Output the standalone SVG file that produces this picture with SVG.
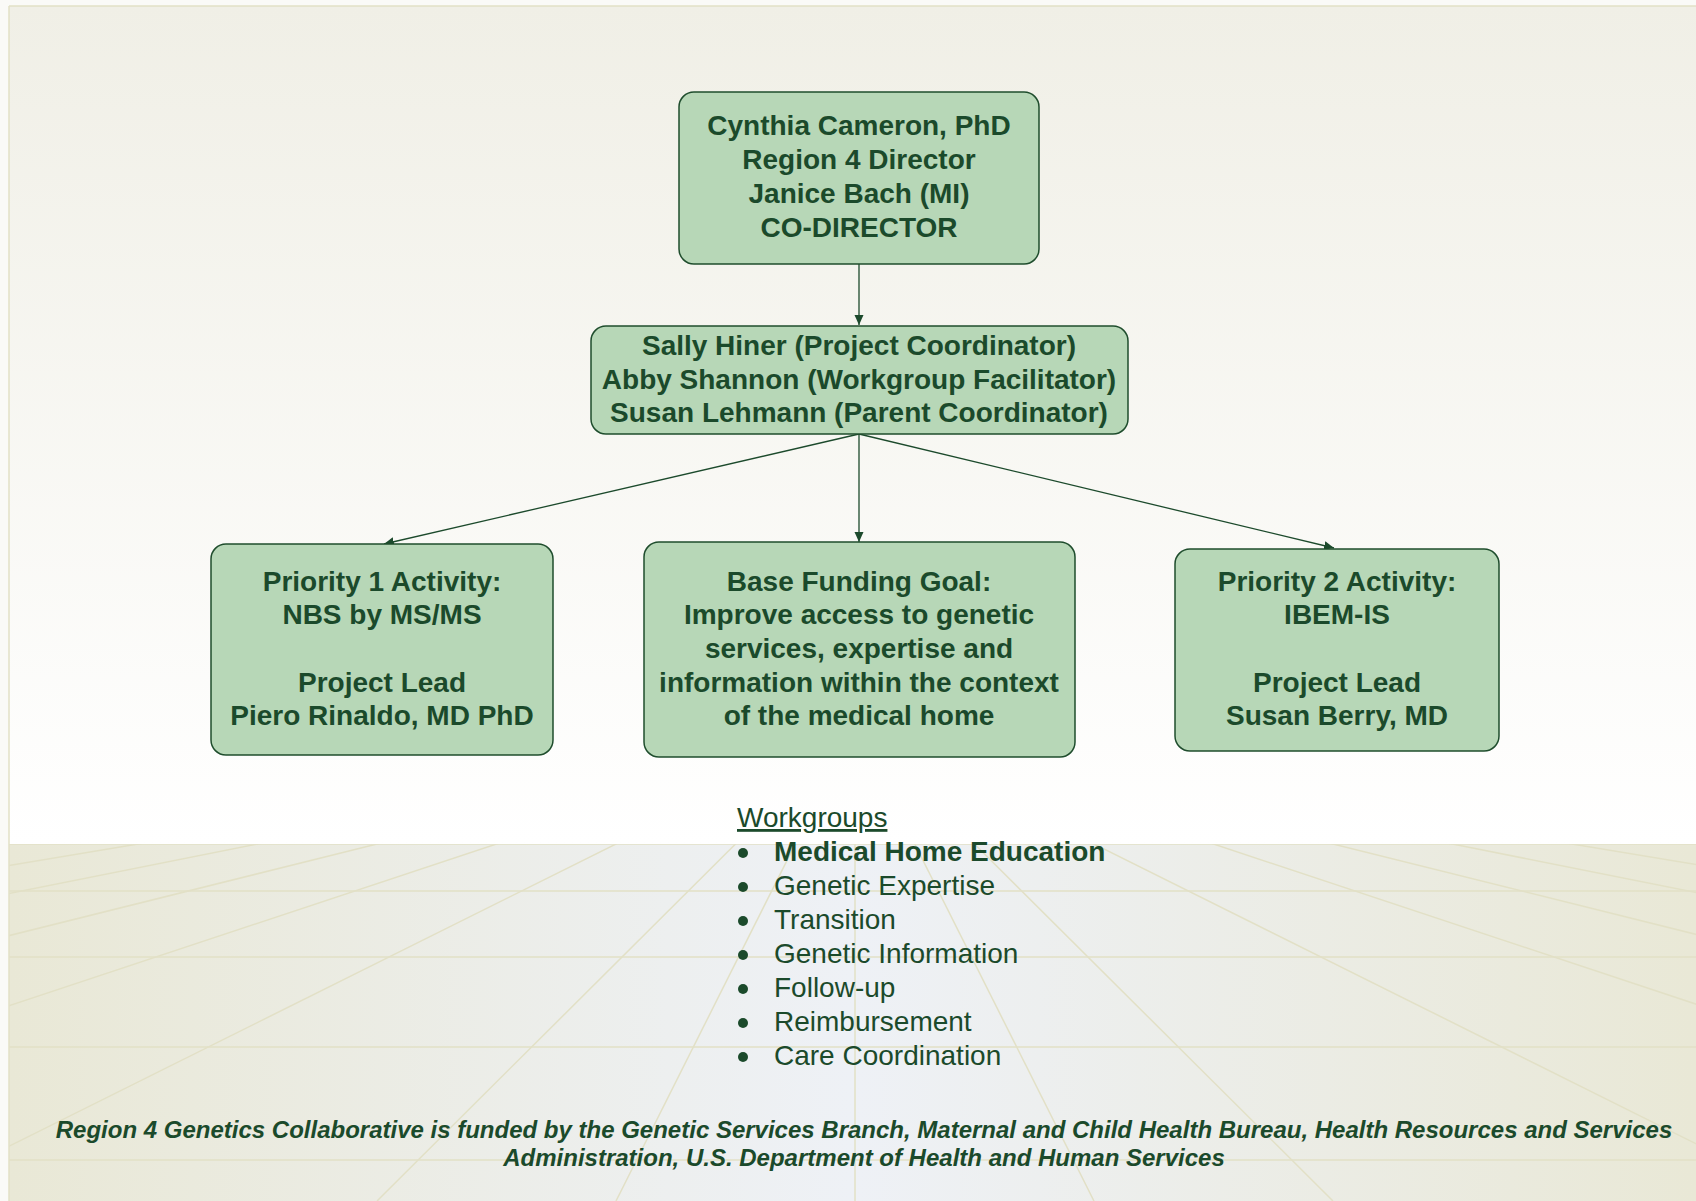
<svg xmlns="http://www.w3.org/2000/svg" width="1696" height="1201" viewBox="0 0 1696 1201">
<defs>
<linearGradient id="skyGrad" x1="0" y1="0" x2="0" y2="1">
<stop offset="0" stop-color="#f0efe6"/>
<stop offset="1" stop-color="#ffffff"/>
</linearGradient>
<linearGradient id="floorGrad" x1="0" y1="0" x2="1" y2="0">
<stop offset="0" stop-color="#e9e8d6"/>
<stop offset="0.5" stop-color="#eef1f6"/>
<stop offset="1" stop-color="#e9e8d6"/>
</linearGradient>
<clipPath id="floorClip"><rect x="9" y="844" width="1687" height="357"/></clipPath>
<marker id="arr" viewBox="0 0 10 10" refX="10" refY="5" markerWidth="10" markerHeight="10" markerUnits="userSpaceOnUse" orient="auto">
<path d="M0,0.5 L10,5 L0,9.5 Z" fill="#1c4a2c"/>
</marker>
<style>
.node{fill:#b7d7b7;stroke:#1f4d2d;stroke-width:1.5}
.bt{font-family:"Liberation Sans",Arial,sans-serif;font-weight:bold;font-size:28px;fill:#1b4a2b;text-anchor:middle}
.wt{font-family:"Liberation Sans",Arial,sans-serif;font-size:28px;fill:#1b4a2b}
.ft{font-family:"Liberation Sans",Arial,sans-serif;font-weight:bold;font-style:italic;font-size:24px;fill:#1b4a2b;text-anchor:middle}
.edge{stroke:#1c4a2c;stroke-width:1.3;fill:none;marker-end:url(#arr)}
.grid{stroke:#e2e0c6;stroke-width:1.5;fill:none}
</style>
</defs>
<g id="background">
<rect x="0" y="0" width="1696" height="1201" fill="#fafaf7"/>
<rect x="9" y="6" width="1687" height="838" fill="url(#skyGrad)"/>
<rect x="9" y="844" width="1687" height="357" fill="url(#floorGrad)"/>
<g clip-path="url(#floorClip)" class="grid">
<line x1="9" y1="844" x2="1696" y2="844"/>
<line x1="9" y1="891" x2="1696" y2="891"/>
<line x1="9" y1="957" x2="1696" y2="957"/>
<line x1="9" y1="1047" x2="1696" y2="1047"/>
<line x1="9" y1="1160" x2="1696" y2="1160"/>
<line x1="855" y1="844" x2="855" y2="1201"/>
<line x1="855" y1="725" x2="-1535" y2="1201"/>
<line x1="855" y1="725" x2="-1057" y2="1201"/>
<line x1="855" y1="725" x2="-579" y2="1201"/>
<line x1="855" y1="725" x2="-101" y2="1201"/>
<line x1="855" y1="725" x2="377" y2="1201"/>
<line x1="855" y1="725" x2="616" y2="1201"/>
<line x1="855" y1="725" x2="-2013" y2="1201"/>
<line x1="855" y1="725" x2="1094" y2="1201"/>
<line x1="855" y1="725" x2="1333" y2="1201"/>
<line x1="855" y1="725" x2="1811" y2="1201"/>
<line x1="855" y1="725" x2="2289" y2="1201"/>
<line x1="855" y1="725" x2="2767" y2="1201"/>
<line x1="855" y1="725" x2="3245" y2="1201"/>
<line x1="855" y1="725" x2="3723" y2="1201"/>
</g>
<line x1="9" y1="6" x2="1696" y2="6" stroke="#e2e0c6" stroke-width="1.5"/>
<line x1="9" y1="6" x2="9" y2="1201" stroke="#e2e0c6" stroke-width="1.5"/>
</g>
<g id="connectors">
<line class="edge" x1="859" y1="264" x2="859" y2="325"/>
<line class="edge" x1="859" y1="434" x2="384" y2="544"/>
<line class="edge" x1="859" y1="434" x2="859" y2="542"/>
<line class="edge" x1="859" y1="434" x2="1334" y2="548"/>
</g>
<g id="node-director">
<rect class="node" x="679" y="92" width="360" height="172" rx="15"/>
<text class="bt" x="859" y="135">Cynthia Cameron, PhD</text>
<text class="bt" x="859" y="169">Region 4 Director</text>
<text class="bt" x="859" y="203">Janice Bach (MI)</text>
<text class="bt" x="859" y="237">CO-DIRECTOR</text>
</g>
<g id="node-coordinators">
<rect class="node" x="591" y="326" width="537" height="108" rx="15"/>
<text class="bt" x="859" y="355">Sally Hiner (Project Coordinator)</text>
<text class="bt" x="859" y="389">Abby Shannon (Workgroup Facilitator)</text>
<text class="bt" x="859" y="422">Susan Lehmann (Parent Coordinator)</text>
</g>
<g id="node-priority1">
<rect class="node" x="211" y="544" width="342" height="211" rx="15"/>
<text class="bt" x="382" y="591">Priority 1 Activity:</text>
<text class="bt" x="382" y="624">NBS by MS/MS</text>
<text class="bt" x="382" y="692">Project Lead</text>
<text class="bt" x="382" y="725">Piero Rinaldo, MD PhD</text>
</g>
<g id="node-base">
<rect class="node" x="644" y="542" width="431" height="215" rx="15"/>
<text class="bt" x="859" y="591">Base Funding Goal:</text>
<text class="bt" x="859" y="624">Improve access to genetic</text>
<text class="bt" x="859" y="658">services, expertise and</text>
<text class="bt" x="859" y="692">information within the context</text>
<text class="bt" x="859" y="725">of the medical home</text>
</g>
<g id="node-priority2">
<rect class="node" x="1175" y="549" width="324" height="202" rx="15"/>
<text class="bt" x="1337" y="591">Priority 2 Activity:</text>
<text class="bt" x="1337" y="624">IBEM-IS</text>
<text class="bt" x="1337" y="692">Project Lead</text>
<text class="bt" x="1337" y="725">Susan Berry, MD</text>
</g>
<g id="workgroups">
<text class="wt" x="737" y="827" text-decoration="underline">Workgroups</text>
<g fill="#1b4a2b">
<circle cx="743" cy="853" r="5"/>
<circle cx="743" cy="887" r="5"/>
<circle cx="743" cy="921" r="5"/>
<circle cx="743" cy="955" r="5"/>
<circle cx="743" cy="989" r="5"/>
<circle cx="743" cy="1023" r="5"/>
<circle cx="743" cy="1057" r="5"/>
</g>
<text class="wt" x="774" y="861" font-weight="bold">Medical Home Education</text>
<text class="wt" x="774" y="895">Genetic Expertise</text>
<text class="wt" x="774" y="929">Transition</text>
<text class="wt" x="774" y="963">Genetic Information</text>
<text class="wt" x="774" y="997">Follow-up</text>
<text class="wt" x="774" y="1031">Reimbursement</text>
<text class="wt" x="774" y="1065">Care Coordination</text>
</g>
<g id="footer">
<text class="ft" x="864" y="1138">Region 4 Genetics Collaborative is funded by the Genetic Services Branch, Maternal and Child Health Bureau, Health Resources and Services</text>
<text class="ft" x="864" y="1166">Administration, U.S. Department of Health and Human Services</text>
</g>
</svg>
